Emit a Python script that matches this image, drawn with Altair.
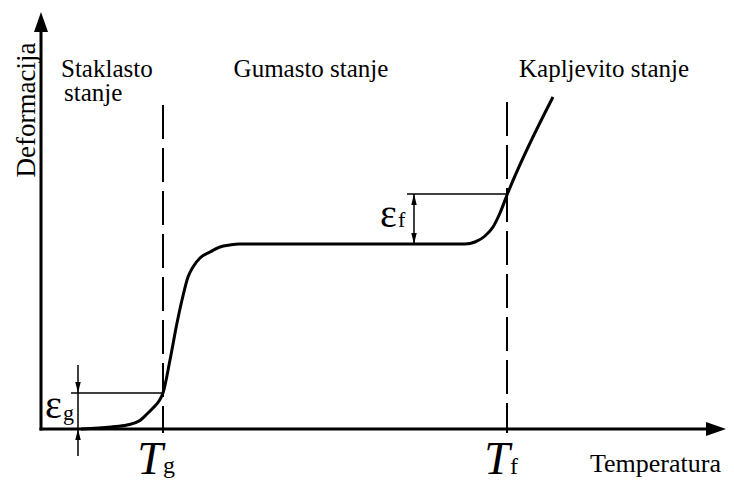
import altair as alt
import pandas as pd

# ---- data (schematic, origin at the axes corner) ----
curve_t = [40, 70, 86, 98, 106, 112, 118, 122, 129, 136, 141, 147, 152, 159, 169, 179, 189, 198, 424, 434, 444, 452, 459, 466, 512]
curve_d = [0, 2, 4, 8, 15, 21, 28, 36, 69, 106, 129, 152, 162, 171, 177, 182, 184, 185, 185, 187, 193, 202, 216, 234, 332]

Tg = 122
Tf = 466
eps_g_level = 36
eps_f_top = 235
plateau = 185

x_dom = [-33, 685]
y_dom = [-51, 421]
W, H = 718, 472

xs = alt.Scale(domain=x_dom, nice=False, zero=False)
ys = alt.Scale(domain=y_dom, nice=False, zero=False)


def enc(**kw):
    return dict(x=alt.X("x:Q", scale=xs, axis=None), y=alt.Y("y:Q", scale=ys, axis=None), **kw)


curve_df = pd.DataFrame({"x": curve_t, "y": curve_d})
curve = alt.Chart(curve_df).mark_line(color="black", strokeWidth=3, interpolate="monotone").encode(**enc())

axes_df = pd.DataFrame({
    "seg": ["ya", "ya", "xa", "xa"],
    "o": [0, 1, 0, 1],
    "x": [0, 0, 0, 668],
    "y": [0, 400, 0, 0],
})
axes = alt.Chart(axes_df).mark_line(color="black", strokeWidth=3, strokeCap="square").encode(
    **enc(detail="seg:N", order="o:Q"))

dash_df = pd.DataFrame({
    "seg": ["g", "g", "f", "f"],
    "o": [0, 1, 0, 1],
    "x": [Tg, Tg, Tf, Tf],
    "y": [324, -4, 327, -4],
})
dashes = alt.Chart(dash_df).mark_line(color="black", strokeWidth=2, strokeDash=[34, 9]).encode(
    **enc(detail="seg:N", order="o:Q"))

dim_df = pd.DataFrame({
    "seg": ["gh", "gh", "gv", "gv", "fh", "fh", "fv", "fv"],
    "o": [0, 1, 0, 1, 0, 1, 0, 1],
    "x": [30, Tg, 37, 37, 366, Tf, 373, 373],
    "y": [eps_g_level, eps_g_level, 64, -27, eps_f_top, eps_f_top, eps_f_top, plateau],
})
dims = alt.Chart(dim_df).mark_line(color="black", strokeWidth=1.5).encode(
    **enc(detail="seg:N", order="o:Q"))

# arrowheads
UP = "M0,0L0.35,1L-0.35,1Z"
RIGHT = "M0,0L-1,-0.35L-1,0.35Z"
SUP = "M0,0L0.25,1L-0.25,1Z"
SDOWN = "M0,0L-0.25,-1L0.25,-1Z"


def head(xv, yv, shape, size):
    return alt.Chart(pd.DataFrame({"x": xv, "y": yv})).mark_point(
        shape=shape, filled=True, color="black", size=size, opacity=1, strokeWidth=0).encode(**enc())


heads = [
    head([0], [417], UP, 1600),
    head([685], [0], RIGHT, 1600),
    head([37, 373], [0, eps_f_top], SUP, 484),
    head([37, 373], [eps_g_level, plateau], SDOWN, 484),
]

FONT = "'Liberation Serif', 'Times New Roman', 'DejaVu Serif', serif"


def txt(xv, yv, labels, size, align="left", style="normal", angle=0, baseline="alphabetic"):
    return alt.Chart(pd.DataFrame({"x": xv, "y": yv, "t": labels})).mark_text(
        font=FONT, fontSize=size, align=align, baseline=baseline, fontStyle=style,
        angle=angle, color="black").encode(**enc(text="t:N"))


texts = [
    txt([20], [352], ["Staklasto"], 25),
    txt([23], [328], ["stanje"], 25),
    txt([270], [352], ["Gumasto stanje"], 25, align="center"),
    txt([478], [352], ["Kapljevito stanje"], 25),
    txt([-6], [319], ["Deformacija"], 27, align="center", angle=270),
    txt([549], [-43], ["Temperatura"], 26),
    txt([Tg - 13, Tf - 10], [-45, -45], ["T", "T"], 46, align="center", style="italic"),
    txt([Tg, Tf + 3], [-44, -45], ["g", "f"], 24),
    txt([4, 339], [11, 202], ["ε", "ε"], 40),
    txt([22, 357], [9, 202], ["g", "f"], 22),
]

chart = alt.layer(axes, dashes, dims, curve, *heads, *texts).properties(
    width=W, height=H, padding=0, autosize=alt.AutoSizeParams(type="none"),
    background="white",
).configure_view(stroke=None)

chart.save("out.html", embed_options={"renderer": "svg", "actions": False})
